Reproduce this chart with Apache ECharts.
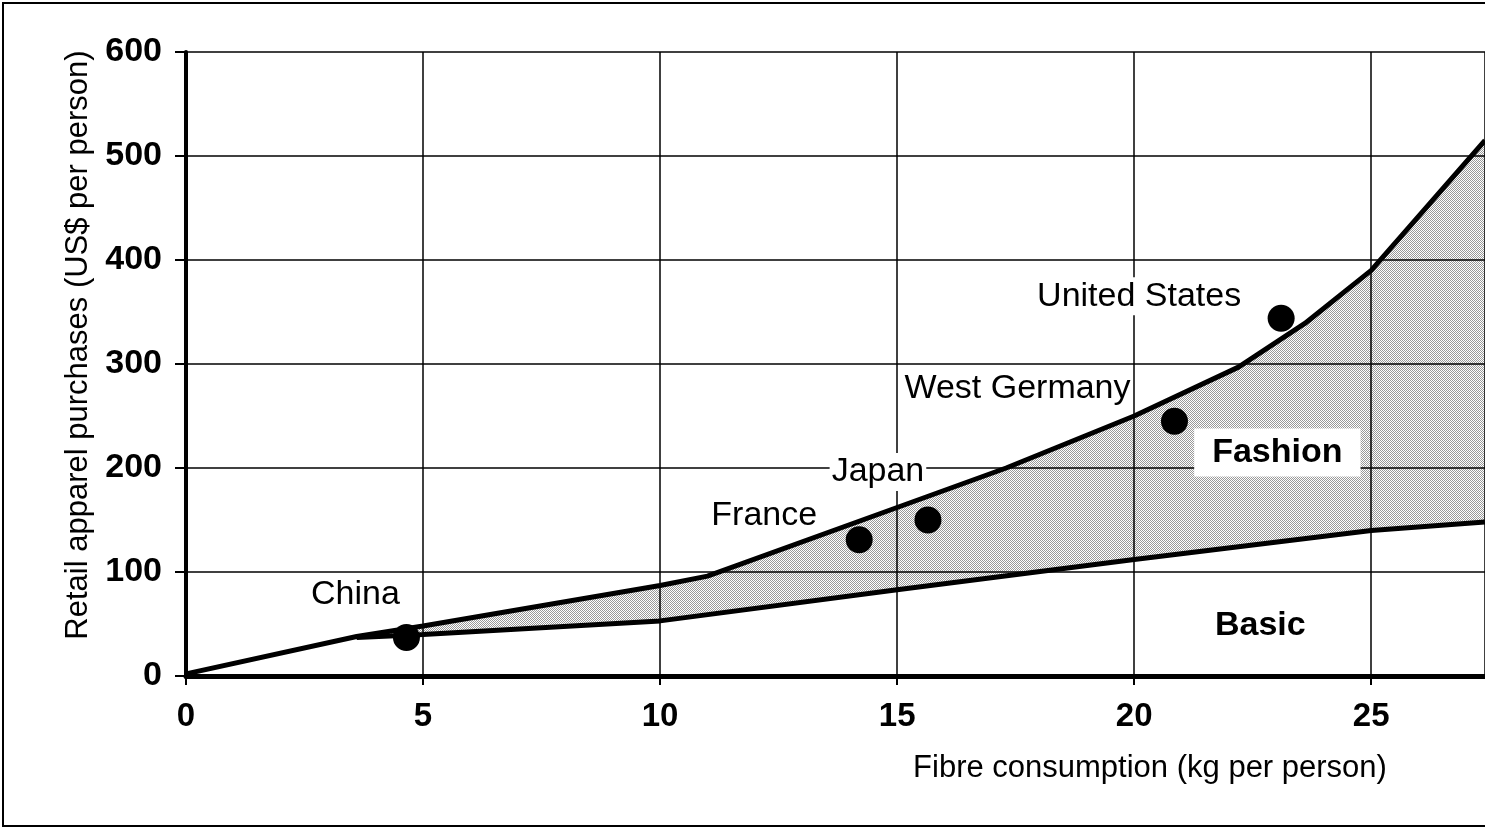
<!DOCTYPE html>
<html>
<head>
<meta charset="utf-8">
<script src="https://cdn.jsdelivr.net/npm/echarts@6/dist/echarts.min.js"></script>
<style>
  html, body { margin: 0; padding: 0; background: #fff; }
  #chart { width: 1485px; height: 836px; }
</style>
</head>
<body>
<div id="chart"></div>
<script>
// ======================
// DATA
// ======================

// upper boundary (total purchases) and lower boundary (basic)
const upperX = [0, 3.6, 5, 10, 11, 15, 17.3, 20, 22.2, 23.6, 25, 27.4];
const upperY = [2, 38, 48, 87, 96, 162, 200, 250, 297, 339, 390, 515];
const lowerX = [3.6, 5, 10, 15, 20, 25, 27.4];
const lowerY = [37, 40, 53, 83, 112, 140, 148];

const countryNames = ['China', 'France', 'Japan', 'West Germany', 'United States'];
const countryX = [4.65, 14.2, 15.65, 20.85, 23.1];
const countryY = [37, 131, 150, 245, 344];

const regionNames = ['Fashion', 'Basic'];
const regionX = [23.02, 22.66];
const regionY = [215, 48];

const xTicks = [0, 5, 10, 15, 20, 25];
const yTicks = [0, 100, 200, 300, 400, 500, 600];

// ======================
// STYLE
// ======================

const FONT = '"Liberation Sans", Arial, sans-serif';

const labelOffsets = {
    'China': [-51, -43],
    'France': [-95, -24],
    'Japan': [-50, -48],
    'West Germany': [-157, -33],
    'United States': [-142, -22],
};

// dotted fill like the printed screen tone
const pat = document.createElement('canvas');
pat.width = 2;
pat.height = 2;
const pctx = pat.getContext('2d');
pctx.fillStyle = 'rgba(0,0,0,0.4)';
pctx.fillRect(0, 0, 1, 1);
pctx.fillRect(1, 1, 1, 1);

// ======================
// CHART
// ======================

const chart = echarts.init(document.getElementById('chart'), null, { renderer: 'canvas' });

const upperData = upperX.map((x, i) => [x, upperY[i]]);
const lowerData = lowerX.map((x, i) => [x, lowerY[i]]);

function renderShade(params, api) {
    const top = upperData.filter(p => p[0] >= lowerX[0]);
    const bottom = lowerData.slice().reverse();
    const points = top.concat(bottom).map(p => api.coord(p));
    return {
        type: 'polygon',
        shape: { points },
        style: { fill: { image: pat, repeat: 'repeat' }, stroke: null },
    };
}

const option = {
    animation: false,
    backgroundColor: '#fff',
    graphic: [{
        type: 'rect',
        shape: { x: 3, y: 3, width: 1520, height: 823 },
        style: { fill: null, stroke: '#000', lineWidth: 2 },
        silent: true,
        z: 100,
    }],
    grid: { left: 186, right: 0, top: 52, bottom: 160, containLabel: false },
    xAxis: {
        type: 'value',
        min: xTicks[0],
        max: 27.4,
        interval: 5,
        name: 'Fibre consumption (kg per person)',
        nameLocation: 'middle',
        nameGap: 77,
        nameTextStyle: {
            color: '#000', fontSize: 31, fontFamily: FONT,
            padding: [0, 0, 0, 629],
        },
        axisLine: { show: true, onZero: false, lineStyle: { color: '#000', width: 5 } },
        axisTick: { show: true, length: 9, lineStyle: { color: '#000', width: 2 } },
        axisLabel: {
            color: '#000', fontSize: 33, fontWeight: 'bold', fontFamily: FONT,
            margin: 24, showMaxLabel: false,
            formatter: v => (xTicks.indexOf(v) >= 0 ? String(v) : ''),
        },
        splitLine: { show: true, lineStyle: { color: '#000', width: 1.5 } },
    },
    yAxis: {
        type: 'value',
        min: yTicks[0],
        max: yTicks[yTicks.length - 1],
        interval: 100,
        name: 'Retail apparel purchases (US$ per person)',
        nameLocation: 'middle',
        nameRotate: 90,
        nameGap: 92,
        nameTextStyle: {
            color: '#000', fontSize: 31, fontFamily: FONT,
            padding: [0, 0, 0, 38],
        },
        axisLine: { show: true, onZero: false, lineStyle: { color: '#000', width: 4 } },
        axisTick: { show: true, length: 11, lineStyle: { color: '#000', width: 2 } },
        axisLabel: {
            color: '#000', fontSize: 34, fontWeight: 'bold', fontFamily: FONT,
            margin: 24,
        },
        splitLine: { show: true, lineStyle: { color: '#000', width: 1.5 } },
    },
    series: [
        {
            type: 'custom',
            name: 'shade',
            z: 1,
            silent: true,
            data: [lowerData[0]],
            renderItem: renderShade,
        },
        {
            type: 'line',
            name: 'total',
            z: 3,
            data: upperData,
            symbol: 'none',
            smooth: false,
            lineStyle: { color: '#000', width: 5 },
        },
        {
            type: 'line',
            name: 'basic',
            z: 3,
            data: lowerData,
            symbol: 'none',
            smooth: false,
            lineStyle: { color: '#000', width: 5 },
        },
        {
            type: 'scatter',
            name: 'countries',
            z: 2,
            symbol: 'circle',
            symbolSize: 27,
            itemStyle: { color: '#000', opacity: 1 },
            data: countryNames.map((n, i) => ({
                name: n,
                value: [countryX[i], countryY[i]],
                label: { offset: labelOffsets[n] },
            })),
            label: {
                show: true,
                position: 'inside',
                formatter: '{b}',
                color: '#000',
                fontSize: 34,
                fontFamily: FONT,
                backgroundColor: '#fff',
                padding: [2, 2, 2, 2],
            },
        },
        {
            type: 'scatter',
            name: 'regions',
            z: 2,
            symbol: 'circle',
            symbolSize: 2,
            itemStyle: { color: 'rgba(0,0,0,0)', opacity: 1 },
            data: regionNames.map((n, i) => ({
                name: n,
                value: [regionX[i], regionY[i]],
            })),
            label: {
                show: true,
                position: 'inside',
                formatter: '{b}',
                color: '#000',
                fontSize: 34,
                fontWeight: 'bold',
                fontFamily: FONT,
                backgroundColor: '#fff',
                padding: [8, 18, 6, 18],
            },
        },
    ],
};

chart.setOption(option);
</script>
</body>
</html>
